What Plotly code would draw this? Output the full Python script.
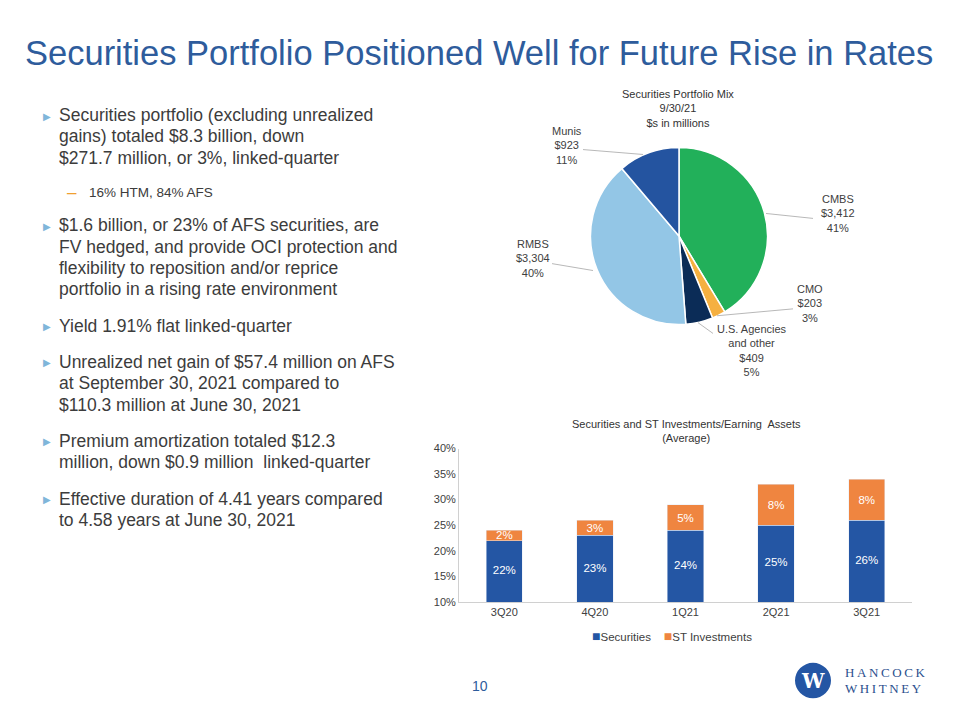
import plotly.graph_objects as go

# pie data
pie_labels = ["CMBS", "CMO", "U.S. Agencies<br>and other", "RMBS", "Munis"]
pie_values = [3412, 203, 409, 3304, 923]
pie_pct = ["41%", "3%", "5%", "40%", "11%"]
pie_colors = ["#22b05a", "#f5b040", "#0b2c57", "#93c6e6", "#2454a0"]

# bar data
quarters = ["3Q20", "4Q20", "1Q21", "2Q21", "3Q21"]
securities = [22, 23, 24, 25, 26]
st_invest = [2, 3, 5, 8, 8]
bar_colors = {"Securities": "#2456a4", "ST Investments": "#ef8540"}

bullets = [
    ["Securities portfolio (excluding unrealized", "gains) totaled $8.3 billion, down",
     "$271.7 million, or 3%, linked-quarter"],
    ["$1.6 billion, or 23% of AFS securities, are", "FV hedged, and provide OCI protection and",
     "flexibility to reposition and/or reprice", "portfolio in a rising rate environment"],
    ["Yield 1.91% flat linked-quarter"],
    ["Unrealized net gain of $57.4 million on AFS", "at September 30, 2021 compared to",
     "$110.3 million at June 30, 2021"],
    ["Premium amortization totaled $12.3", "million, down $0.9 million  linked-quarter"],
    ["Effective duration of 4.41 years compared", "to 4.58 years at June 30, 2021"],
]
bullet_top = [111, 223, 325, 362, 442, 501]  # first line centre, px from top
LINE = 21.7

W, H = 960, 720
FONT = "Liberation Sans"
TXT = "#3c3c3c"
BLUE = "#2e5c9c"


def px(x):
    return x / W


def py(y):
    return 1 - y / H


fig = go.Figure()

fig.add_trace(go.Pie(
    labels=pie_labels, values=pie_values, sort=False, direction="clockwise",
    rotation=0, textinfo="none", hoverinfo="label+value+percent",
    marker=dict(colors=pie_colors, line=dict(color="white", width=1.5)),
    domain=dict(x=[px(590), px(768)], y=[py(324), py(144)]),
    showlegend=False,
))

fig.add_trace(go.Bar(
    x=quarters, y=securities, name="Securities", marker_color=bar_colors["Securities"],
    textposition="none", showlegend=False,
))
fig.add_trace(go.Bar(
    x=quarters, y=st_invest, name="ST Investments", marker_color=bar_colors["ST Investments"],
    text=[f"{v}%" for v in st_invest], textposition="inside",
    insidetextanchor="middle", constraintext="none",
    textfont=dict(color="white", size=11.5, family=FONT), showlegend=False,
))
# securities labels centred in the visible part of the bar (axis starts at 10%)
fig.add_trace(go.Scatter(
    x=quarters, y=[(10 + v) / 2 for v in securities], mode="text",
    text=[f"{v}%" for v in securities], textfont=dict(color="white", size=11.5, family=FONT),
    showlegend=False, hoverinfo="skip",
))

fig.update_layout(
    width=W, height=H, margin=dict(l=0, r=0, t=0, b=0),
    paper_bgcolor="white", plot_bgcolor="white",
    font=dict(family=FONT, color=TXT),
    barmode="stack", bargap=0.6,
    xaxis=dict(domain=[px(459), px(912)], showgrid=False, showline=True,
               linecolor="#d0d0d0", ticks="", tickfont=dict(size=11, color="#404040")),
    yaxis=dict(domain=[py(606), py(450)], range=[10, 40], dtick=5, ticksuffix="%",
               showgrid=False, showline=True, linecolor="#d0d0d0", zeroline=False,
               ticks="", tickfont=dict(size=11, color="#404040")),
)

ann = []
ann.append(dict(x=px(23), y=py(48), xref="paper", yref="paper", xanchor="left", yanchor="middle",
                text="Securities Portfolio Positioned Well for Future Rise in Rates",
                showarrow=False, font=dict(size=34.5, color=BLUE)))

# bullets
for lines, top in zip(bullets, bullet_top):
    for i, line in enumerate(lines):
        ann.append(dict(x=px(57), y=py(top + i * LINE), xref="paper", yref="paper", xanchor="left",
                        yanchor="middle", text=line, showarrow=False,
                        font=dict(size=17.5, color=TXT)))
    ann.append(dict(x=px(41), y=py(top + 1), xref="paper", yref="paper", xanchor="left",
                    yanchor="middle", text="\u25B6", showarrow=False,
                    font=dict(size=10, color="#7fb6da", family="DejaVu Sans")))
ann.append(dict(x=px(87), y=py(190), xref="paper", yref="paper", xanchor="left", yanchor="middle",
                text="16% HTM, 84% AFS", showarrow=False, font=dict(size=13.5, color=TXT)))
ann.append(dict(x=px(65), y=py(190), xref="paper", yref="paper", xanchor="left", yanchor="middle",
                text="\u2013", showarrow=False, font=dict(size=17, color="#f0a030")))

# pie title and labels
ann.append(dict(x=px(678), y=py(104), xref="paper", yref="paper", xanchor="center", yanchor="middle",
                text="Securities Portfolio Mix<br>9/30/21<br>$s in millions", showarrow=False,
                font=dict(size=11, color="#333333")))
label_pos = [(838, 211), (810, 303), (752, 350), (533, 257), (567, 142)]
for lab, val, pct, (lx, ly) in zip(pie_labels, pie_values, pie_pct, label_pos):
    ann.append(dict(x=px(lx), y=py(ly), xref="paper", yref="paper", xanchor="center", yanchor="middle",
                    text=f"{lab}<br>${val:,}<br>{pct}", showarrow=False,
                    font=dict(size=11, color="#404040")))

# bar chart title
ann.append(dict(x=px(686), y=py(432), xref="paper", yref="paper", xanchor="center", yanchor="middle",
                text="Securities and ST Investments/Earning  Assets<br>(Average)", showarrow=False,
                font=dict(size=11, color="#333333")))

# compact legend
legend_txt = "\u00a0\u00a0\u00a0\u00a0".join(
    f'<span style="color:{c};font-size:14px">\u25A0</span>{name}' for name, c in bar_colors.items())
ann.append(dict(x=px(672), y=py(641), xref="paper", yref="paper", xanchor="center", yanchor="middle",
                text=legend_txt, showarrow=False, font=dict(size=11.5, color="#404040")))

# page number and logo
ann.append(dict(x=px(480), y=py(692), xref="paper", yref="paper", xanchor="center", yanchor="middle",
                text="10", showarrow=False, font=dict(size=14, color=BLUE)))
ann.append(dict(x=px(813), y=py(686), xref="paper", yref="paper", xanchor="center", yanchor="middle",
                text="<b>W</b>", showarrow=False, font=dict(size=20, color="white", family="DejaVu Serif")))
for word, wy in [("H\u2009A\u2009N\u2009C\u2009O\u2009C\u2009K", 678),
                 ("W\u2009H\u2009I\u2009T\u2009N\u2009E\u2009Y", 694)]:
    ann.append(dict(x=px(843), y=py(wy), xref="paper", yref="paper", xanchor="left", yanchor="middle",
                    text=word, showarrow=False,
                    font=dict(size=13, color="#2b4f8e", family="Liberation Serif")))
fig.update_layout(annotations=ann)

shapes = []
# leader lines
leaders = [((813, 216), (766, 211)), ((793, 308), (717, 315)), ((713, 333), (698, 322)),
           ((552, 262), (593, 269)), ((583, 146), (643, 151))]
for (x0, y0), (x1, y1) in leaders:
    shapes.append(dict(type="line", xref="paper", yref="paper", x0=px(x0), y0=py(y0),
                       x1=px(x1), y1=py(y1), line=dict(color="#a6a6a6", width=0.8)))
shapes.append(dict(type="circle", xref="paper", yref="paper", x0=px(795), x1=px(831),
                   y0=py(704), y1=py(668), fillcolor="#2456a4", line=dict(width=0)))
fig.update_layout(shapes=shapes)

fig.write_html("out.html", config={"displayModeBar": False},
               post_script="document.body.style.margin='0px';")
